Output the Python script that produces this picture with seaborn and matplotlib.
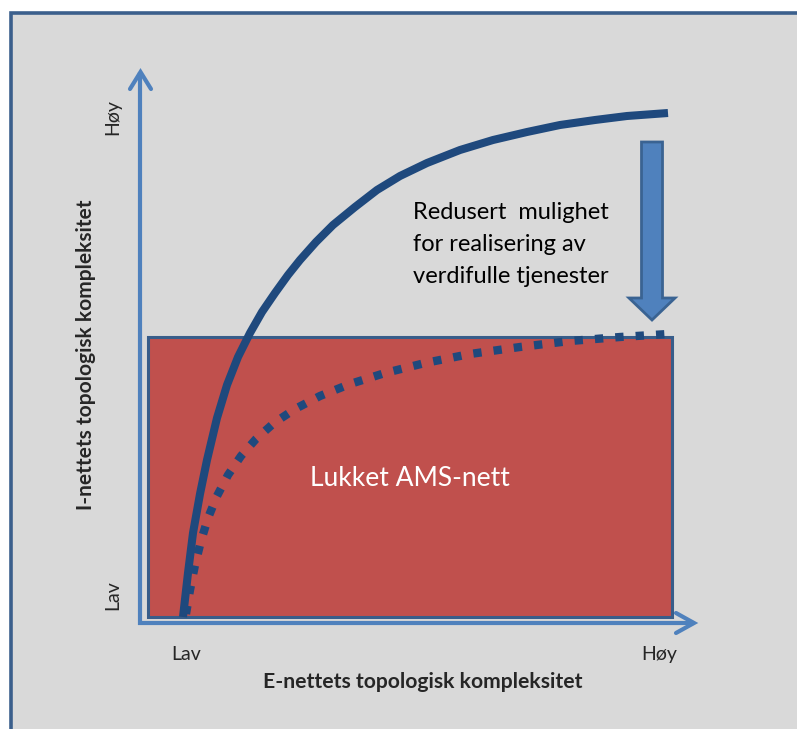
import numpy as np
import pandas as pd
import matplotlib.pyplot as plt
import seaborn as sns
from matplotlib.patches import Rectangle, FancyArrow

# Values (pixel coordinates of the drawing, y grows downwards)
solid_x = [183, 188, 193, 200, 207, 217, 227, 238, 250, 262, 275, 288, 300, 316, 333, 355, 377, 400, 427, 460, 493, 527, 560, 595, 627, 668]
solid_y = [617, 573, 533, 494, 460, 418, 385, 357, 333, 312, 293, 275, 260, 242, 225, 207, 190, 176, 163, 150, 140, 132, 125, 120, 116, 113]

dotted_x = [186, 190, 195, 201, 208, 217, 228, 241, 256, 274, 295, 320, 350, 385, 425, 470, 520, 570, 620, 668]
dotted_y = [614, 590, 565, 541, 518, 496, 475, 456, 439, 423, 409, 396, 384, 373, 363, 354, 347, 341, 337, 334]

# Closed AMS net box and the "reduced" arrow
box_left, box_right, box_top, box_bottom = 148, 672, 337, 617
arrow_x, arrow_top, arrow_tip = 652, 142, 320

note_lines = ["Redusert  mulighet", "for realisering av", "verdifulle tjenester"]
box_label = "Lukket AMS-nett"
level_labels = ["Lav", "Høy"]
x_title = "E-nettets topologisk kompleksitet"
y_title = "I-nettets topologisk kompleksitet"

sns.set_theme(style="white")
plt.rcParams['font.family'] = ['Lato', 'DejaVu Sans']

fig = plt.figure(figsize=(7.97, 7.29), dpi=100)
fig.patch.set_facecolor('white')
ax = fig.add_axes([0, 0, 1, 1])
ax.set_xlim(0, 797)
ax.set_ylim(729, 0)
ax.axis('off')

# Outer frame
ax.add_patch(Rectangle((11.5, 13), 800, 730, facecolor='#D9D9D9', edgecolor='#3B5F8C', lw=2.6, zorder=0))

# Red box
ax.add_patch(Rectangle((box_left, box_top), box_right - box_left, box_bottom - box_top,
                       facecolor='#C0504D', edgecolor='#385D8A', lw=2.2, zorder=1))

# Axes arrows
axis_col = '#4F81BD'
ax.plot([140.5, 140.5], [625, 72], color=axis_col, lw=3, solid_capstyle='butt', zorder=2)
ax.plot([130, 140.5, 151], [89, 72, 89], color=axis_col, lw=3, solid_capstyle='round', solid_joinstyle='miter', zorder=2)
ax.plot([138, 694], [623, 623], color=axis_col, lw=3, solid_capstyle='butt', zorder=2)
ax.plot([676, 694, 676], [613, 623, 633], color=axis_col, lw=3, solid_capstyle='round', solid_joinstyle='miter', zorder=2)

# Curves
curve_col = '#1F497D'
sns.lineplot(x=solid_x, y=solid_y, sort=False, ax=ax, color=curve_col, lw=5.8,
             solid_capstyle='butt', solid_joinstyle='round', zorder=4)
sns.lineplot(x=dotted_x, y=dotted_y, sort=False, ax=ax, color=curve_col, lw=6,
             linestyle=(0, (1.0, 1.45)), dash_capstyle='butt', zorder=3)

# Down arrow
ax.add_patch(FancyArrow(arrow_x, arrow_top, 0, arrow_tip - arrow_top, width=21, head_width=46,
                        head_length=22, length_includes_head=True,
                        facecolor='#4F81BD', edgecolor='#3A6392', lw=2, zorder=5))

# Texts
for i, line in enumerate(note_lines):
    ax.text(413, 219 + i * 32, line, fontsize=17, color='black', ha='left', va='baseline')
ax.text(410, 486, box_label, fontsize=19, color='white', ha='center', va='baseline', zorder=6)

ax.text(186, 660, level_labels[0], fontsize=14, ha='center', va='baseline')
ax.text(659, 660, level_labels[1], fontsize=14, ha='center', va='baseline')
ax.text(113, 595, level_labels[0], fontsize=14, ha='center', va='center', rotation=90)
ax.text(113, 117, level_labels[1], fontsize=14, ha='center', va='center', rotation=90)

ax.text(423, 688, x_title, fontsize=15.2, fontweight='bold', ha='center', va='baseline')
ax.text(86, 355, y_title, fontsize=15, fontweight='bold', ha='center', va='center', rotation=90)

fig.savefig('out.png', dpi=100)
